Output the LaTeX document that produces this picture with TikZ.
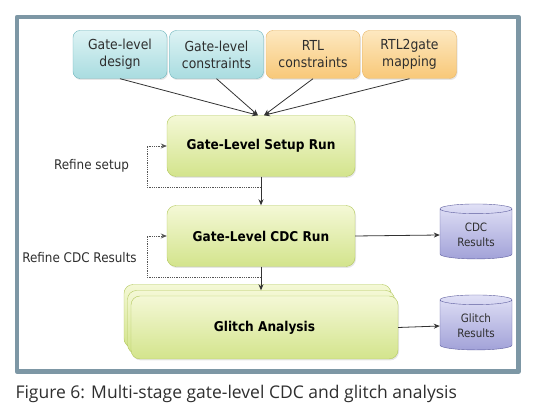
\documentclass[tikz,border=0pt]{standalone}
\usepackage{fontspec}
\setmainfont{DejaVu Sans}[FakeStretch=0.9]
\newfontfamily\capfont{Open Sans}
\usetikzlibrary{shapes.geometric,shadows,arrows.meta}
\definecolor{framegray}{HTML}{7D97A5}
\definecolor{txtgray}{HTML}{2E2E2E}
\definecolor{arrowgray}{HTML}{333333}
\definecolor{dotgray}{HTML}{555555}
\definecolor{tealline}{HTML}{6AB3BA}
\definecolor{tealtop}{HTML}{DDF3F4}
\definecolor{tealbot}{HTML}{A9DCE0}
\definecolor{orangeline}{HTML}{E6B465}
\definecolor{orangetop}{HTML}{FDE8C0}
\definecolor{orangebot}{HTML}{F8C878}
\definecolor{greenline}{HTML}{B4C95F}
\definecolor{greentop}{HTML}{F4F8D6}
\definecolor{greenbot}{HTML}{D3E48C}
\definecolor{dbline}{HTML}{5E5E9E}
\definecolor{dbtop}{HTML}{E0E0F6}
\definecolor{dbbot}{HTML}{A2A2D8}
\tikzset{
  inbox/.style={draw,rounded corners=7pt,minimum width=94pt,minimum height=48pt,
    align=center,text=txtgray,font=\fontsize{13.8}{17}\selectfont,
    drop shadow={opacity=0.2,shadow xshift=1pt,shadow yshift=-1.5pt}},
  tealbox/.style={inbox,draw=tealline,top color=tealtop,bottom color=tealbot},
  orangebox/.style={inbox,draw=orangeline,top color=orangetop,bottom color=orangebot},
  runbox/.style={draw=greenline,rounded corners=9pt,minimum width=188pt,minimum height=61pt,
    top color=greentop,bottom color=greenbot,text=black,font=\fontsize{13.5}{15}\selectfont\bfseries,
    drop shadow={opacity=0.2,shadow xshift=1pt,shadow yshift=-1.5pt}},
  glitchbox/.style={runbox,minimum width=267pt,minimum height=63pt},
  db/.style={cylinder,shape border rotate=90,aspect=0.22,draw=dbline,
    minimum width=72pt,minimum height=55pt,align=center,text=txtgray,
    top color=dbtop,bottom color=dbbot,font=\fontsize{11.5}{15}\selectfont},
  note/.style={text=txtgray,font=\fontsize{13.3}{15}\selectfont},
  loopline/.style={densely dotted,line width=0.8pt,draw=dotgray}
}
\begin{document}
\begin{tikzpicture}[x=1pt,y=-1pt,>={Stealth[length=6pt,width=5pt]},line join=round]
  \useasboundingbox (0,0) rectangle (533,419);
  \draw[framegray,line width=4.5pt] (17,17) rectangle (518.5,371.5);
  \foreach \n/\x/\s/\t in {gd/120/tealbox/{Gate-level\\design},
                           gc/216.5/tealbox/{Gate-level\\constraints},
                           rc/313/orangebox/{RTL\\constraints},
                           rm/409.5/orangebox/{RTL2gate\\mapping}}{
    \node[\s] (\n) at (\x,54.5) {\t};}
  \node[runbox] (setup) at (261,146) {Gate-Level Setup Run};
  \node[runbox] (cdc) at (261,236) {Gate-Level CDC Run};
  \node[glitchbox] (glitch3) at (257.5,316) {};
  \node[glitchbox] (glitch2) at (261,322) {};
  \node[glitchbox] (glitch) at (264.5,327.5) {Glitch Analysis};
  \node[db] (cdcdb) at (476,235) {CDC\\Results};
  \node[db] (glitchdb) at (476,326) {Glitch\\Results};
  \node[note] (rs) at (91.5,166) {Refine setup};
  \node[note] (rcdc) at (79.5,258) {Refine CDC Results};
  \node[font=\fontsize{17.5}{20}\selectfont\capfont,anchor=west,text=txtgray] (cap) at (12,394)
    {Figure 6: Multi-stage gate-level CDC and glitch analysis};
  \coordinate (inl) at ([xshift=-3pt]setup.north);
  \coordinate (inr) at ([xshift=3pt]setup.north);
  \foreach \a/\b in {gd.south/inl,gc.south/inl,rc.south/inr,rm.south/inr,
                     setup.south/cdc.north,cdc.south/glitch2.north,
                     cdc.east/cdcdb.west,glitch.east/glitchdb.west}{
    \draw[->,line width=0.8pt,draw=arrowgray] (\a) -- (\b);}
  \coordinate (l1) at (261,187);
  \coordinate (l2) at (261,277);
  \draw[loopline,->] (l1) -- (147,187) |- (setup.west);
  \draw[loopline,->] (l2) -- (147,277) |- (cdc.west);
\end{tikzpicture}
\end{document}
